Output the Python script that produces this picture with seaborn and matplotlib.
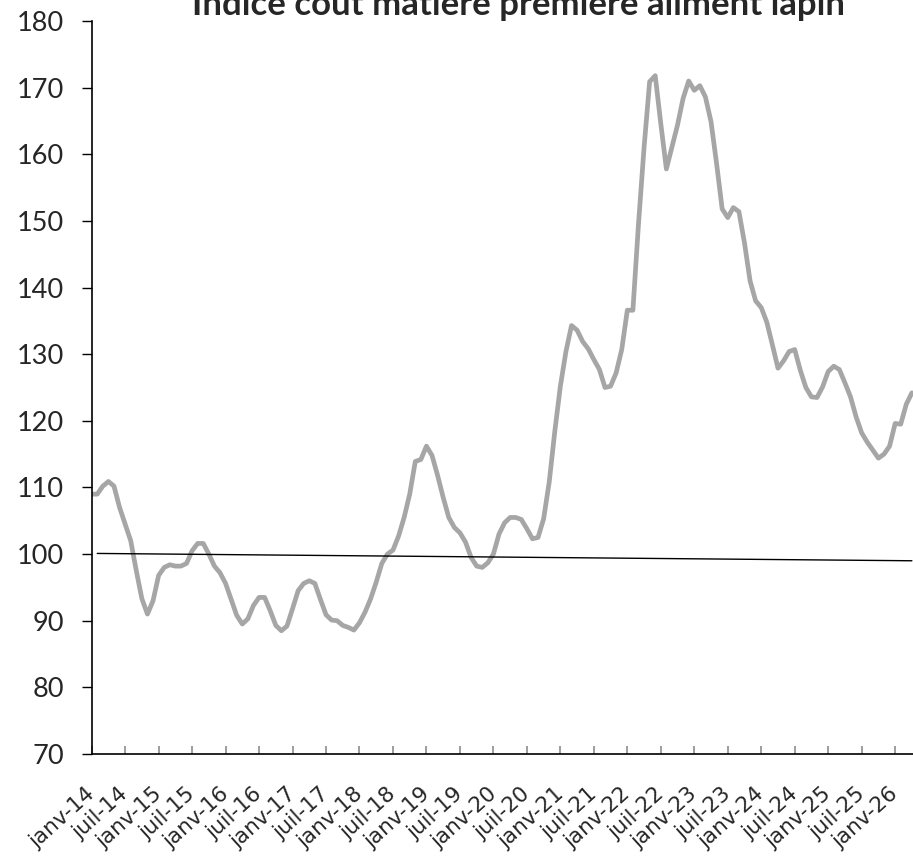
"""
Indice coût matière première aliment lapin (base 100)
Série mensuelle janv-14 -> avr-26, avec la droite de référence à 100.
"""

import pandas as pd
import matplotlib
matplotlib.use('Agg')
import matplotlib.pyplot as plt
import matplotlib.transforms as mtransforms
import seaborn as sns


# Valeurs mensuelles de l'indice, janvier 2014 -> avril 2026
indice = [
    109.0, 109.0, 110.2, 110.9, 110.2, 107.0, 104.5, 102.0, 97.5, 93.3, 91.0, 93.0,    # 2014
    96.8, 98.0, 98.4, 98.2, 98.2, 98.6, 100.5, 101.6, 101.6, 100.0, 98.2, 97.2,        # 2015
    95.6, 93.2, 90.8, 89.5, 90.3, 92.3, 93.5, 93.5, 91.5, 89.3, 88.5, 89.2,            # 2016
    91.8, 94.5, 95.6, 96.0, 95.6, 93.2, 90.9, 90.1, 90.0, 89.3, 89.0, 88.6,            # 2017
    89.7, 91.3, 93.3, 95.8, 98.6, 100.0, 100.6, 102.7, 105.5, 109.0, 113.9, 114.2,     # 2018
    116.2, 114.8, 111.8, 108.5, 105.5, 104.0, 103.2, 101.8, 99.5, 98.2, 98.0, 98.7,    # 2019
    100.0, 103.0, 104.7, 105.5, 105.5, 105.2, 103.8, 102.3, 102.5, 105.3, 110.8, 118.4,  # 2020
    125.2, 130.4, 134.3, 133.6, 131.9, 130.8, 129.2, 127.7, 125.0, 125.2, 127.2, 130.7,  # 2021
    136.6, 136.6, 149.5, 161.0, 170.9, 171.8, 164.6, 157.8, 161.1, 164.4, 168.4, 171.0,  # 2022
    169.6, 170.3, 168.6, 164.9, 158.6, 151.8, 150.5, 152.0, 151.4, 146.7, 141.0, 138.0,  # 2023
    137.0, 134.8, 131.4, 127.9, 129.0, 130.4, 130.7, 127.6, 125.0, 123.6, 123.5, 125.1,  # 2024
    127.4, 128.2, 127.7, 125.7, 123.6, 120.6, 118.2, 116.8, 115.6, 114.4, 115.0, 116.2,  # 2025
    119.6, 119.5, 122.5, 124.2,                                                        # 2026
]

# Libellés de l'axe des x (un tous les 6 mois)
tick_labels = [
    'janv-14', 'juil-14', 'janv-15', 'juil-15', 'janv-16', 'juil-16',
    'janv-17', 'juil-17', 'janv-18', 'juil-18', 'janv-19', 'juil-19',
    'janv-20', 'juil-20', 'janv-21', 'juil-21', 'janv-22', 'juil-22',
    'janv-23', 'juil-23', 'janv-24', 'juil-24', 'janv-25', 'juil-25',
    'janv-26',
]

# Droite de référence (début / fin)
ref_mois = [1, 147]
ref_valeurs = [100.1, 99.0]

titre = 'Indice coût matière première aliment lapin'


def main():
    df = pd.DataFrame({'mois': range(len(indice)), 'indice': indice})
    ref = pd.DataFrame({'mois': ref_mois, 'valeur': ref_valeurs})

    sns.set_style('white')
    plt.rcParams['font.family'] = ['Lato', 'DejaVu Sans']

    fig = plt.figure(figsize=(9.13, 8.58), dpi=100)
    ax = fig.add_axes([0.1004, 0.1212, 0.8996, 0.8543])

    sns.lineplot(data=df, x='mois', y='indice', color='#A6A6A6',
                 linewidth=3.4, ax=ax)
    sns.lineplot(data=ref, x='mois', y='valeur', color='black',
                 linewidth=1.0, ax=ax)

    ax.set_xlim(0, 147.2)
    ax.set_ylim(70, 180)
    ax.set_xlabel('')
    ax.set_ylabel('')

    # axe des y
    ax.set_yticks(range(70, 181, 10))
    ax.tick_params(axis='y', direction='out', length=7, width=1,
                   color='black', pad=13, labelsize=19.5, left=True)

    # axe des x
    ax.set_xticks(range(0, 6 * len(tick_labels), 6))
    ax.set_xticklabels(tick_labels, fontfamily='DejaVu Sans', fontsize=15.5,
                       rotation=42, ha='right')
    ax.tick_params(axis='x', direction='in', length=6, width=1.2,
                   color='#8C8C8C', pad=21, bottom=True)
    shift = mtransforms.ScaledTranslation(5 / 72, 0, fig.dpi_scale_trans)
    for lbl in ax.get_xticklabels():
        lbl.set_transform(lbl.get_transform() + shift)

    for side in ['top', 'right']:
        ax.spines[side].set_visible(False)
    for side in ['left', 'bottom']:
        ax.spines[side].set_color('black')
        ax.spines[side].set_linewidth(1.2)

    fig.text(0.568, 1 - 15 / 858, titre, ha='center', va='baseline',
             fontsize=25, fontweight='bold')

    fig.savefig('out.png', dpi=100)
    plt.close(fig)


if __name__ == "__main__":
    main()
